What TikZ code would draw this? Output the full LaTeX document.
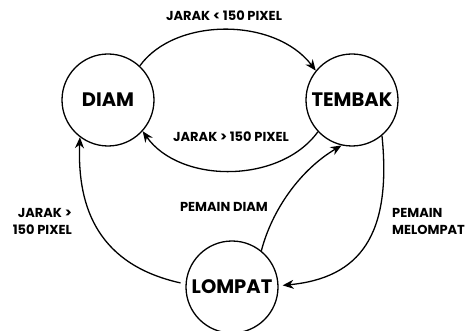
\documentclass[tikz,border=0pt]{standalone}
\usepackage{fontspec}
\setmainfont{Poppins}
\usetikzlibrary{arrows.meta}
\begin{document}
\begin{tikzpicture}[x=1pt,y=-1pt,
  state/.style={circle,draw,line width=1.3pt,minimum size=92pt,inner sep=0pt,
    font=\fontsize{19.5}{19.5}\selectfont\bfseries},
  lbl/.style={font=\fontsize{13}{17}\selectfont\bfseries,inner sep=0pt},
  edge/.style={line width=1.3pt,-{Stealth[length=11pt,width=9pt]}}]
\useasboundingbox (0,0) rectangle (466,331);
\node[state] (diam) at (108,100) {DIAM};
\node[state] (tembak) at (352,100) {TEMBAK};
\node[state] (lompat) at (232,287) {LOMPAT};
\draw[edge] (diam.47) .. controls (175,17) and (275,17) .. (tembak.141);
\draw[edge] (tembak.223) .. controls (280,184) and (180,184) .. (diam.318);
\draw[edge] ([xshift=-5pt]lompat.175) .. controls (100,265) and (77,210) .. (diam.233);
\draw[edge] (lompat.51) .. controls (272,210) and (300,170) .. (tembak.257);
\draw[edge] (tembak.310) .. controls (392,235) and (360,278) .. ([xshift=4pt]lompat.2);
\node[lbl] (l1) at (224,16) {JARAK < 150 PIXEL};
\node[lbl] (l2) at (231,137) {JARAK > 150 PIXEL};
\node[lbl] (l3) at (224,207) {PEMAIN DIAM};
\node[lbl,align=right,anchor=east] (l4) at (72,221) {JARAK >\\150 PIXEL};
\node[lbl,align=left,anchor=west] (l5) at (392,221) {PEMAIN\\MELOMPAT};
\end{tikzpicture}
\end{document}
